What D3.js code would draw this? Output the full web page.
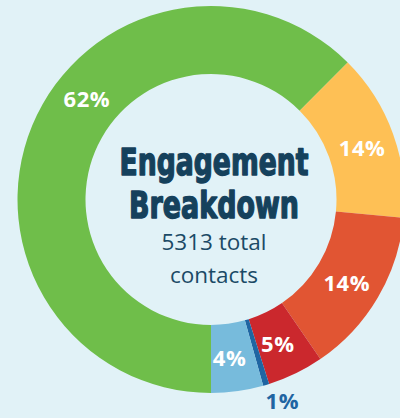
<!DOCTYPE html>
<html>
<head>
<meta charset="utf-8">
<script src="https://cdn.jsdelivr.net/npm/d3@7"></script>
<style>
  html, body { margin: 0; padding: 0; background: #e1f2f7; overflow: hidden; }
  svg { display: block; }
</style>
</head>
<body>
<svg id="chart" width="400" height="418"></svg>
<script>
// ---- data ----
const categories = ["Engaged", "Warm", "Interested", "Cold", "Bounced", "Unsubscribed"];
const counts = [3320, 745, 740, 250, 27, 231];
const colors = ["#6fbe4a", "#fec055", "#e15533", "#cb282d", "#1f65a2", "#77bbdc"];
const titleLines = ["Engagement", "Breakdown"];
const totalLabel = "total";
const subtitleLine2 = "contacts";

// ---- layout ----
const W = 400, H = 418;
const cx = 211, cy = 199.5;
const outerR = 193.5, innerR = 125.5;
const total = d3.sum(counts);

const svg = d3.select("#chart");
svg.append("rect").attr("width", W).attr("height", H).attr("fill", "#e1f2f7");

const g = svg.append("g").attr("transform", `translate(${cx},${cy})`);

const data = categories.map((c, i) => ({ category: c, value: counts[i], color: colors[i] }));

const pie = d3.pie()
  .sort(null)
  .value(d => d.value)
  .startAngle(Math.PI)
  .endAngle(3 * Math.PI);

const arcs = pie(data);
const arc = d3.arc().innerRadius(innerR).outerRadius(outerR);

g.selectAll("path.slice")
  .data(arcs)
  .join("path")
  .attr("class", "slice")
  .attr("d", arc)
  .attr("fill", d => d.data.color);

const pct = v => Math.round(v / total * 100) + "%";
const maxVal = d3.max(counts);
const midR = (innerR + outerR) / 2;

function labelPos(d) {
  const share = d.data.value / total;
  let a = (d.startAngle + d.endAngle) / 2;
  let r = midR;
  if (d.data.value === maxVal) a = d.startAngle + (d.endAngle - d.startAngle) * 0.573;
  else if (share < 0.02) { r = outerR + 21; a = a - 0.05; }
  else a = a + 0.02;
  return [Math.sin(a) * r, -Math.cos(a) * r];
}

g.selectAll("text.pct")
  .data(arcs)
  .join("text")
  .attr("class", "pct")
  .attr("x", d => labelPos(d)[0])
  .attr("y", d => labelPos(d)[1])
  .attr("dy", "0.35em")
  .attr("text-anchor", "middle")
  .attr("font-family", "'Open Sans', 'DejaVu Sans', sans-serif")
  .attr("font-weight", 700)
  .attr("font-size", 22)
  .attr("letter-spacing", 0.6)
  .attr("fill", d => (d.data.value / total < 0.02) ? d.data.color : "#ffffff")
  .text(d => pct(d.data.value));

// ---- center text ----
const tx = cx + 3;
const titleFont = "'Liberation Sans Narrow', 'DejaVu Sans Condensed', 'DejaVu Sans', sans-serif";
const titleWidths = [190, 171];
const titleBase = [175, 218];
titleLines.forEach((t, i) => {
  const holder = svg.append("g");
  const txt = holder.append("text")
    .attr("x", 0)
    .attr("y", 0)
    .attr("text-anchor", "middle")
    .attr("font-family", titleFont)
    .attr("font-stretch", "condensed")
    .attr("font-weight", 700)
    .attr("font-size", 38)
    .attr("fill", "#15415c")
    .attr("stroke", "#15415c")
    .attr("stroke-width", 1.4)
    .attr("stroke-linejoin", "round")
    .text(t);
  const natural = txt.node().getComputedTextLength() + 1.4;
  const sx = titleWidths[i] / natural;
  holder.attr("transform", `translate(${tx},${titleBase[i]}) scale(${sx},1)`);
});

svg.append("text")
  .attr("x", tx)
  .attr("y", 250)
  .attr("text-anchor", "middle")
  .attr("font-family", "'Open Sans', sans-serif")
  .attr("font-size", 22.5)
  .attr("fill", "#1b4a66")
  .text(`${total} ${totalLabel}`);

svg.append("text")
  .attr("x", tx)
  .attr("y", 283)
  .attr("text-anchor", "middle")
  .attr("font-family", "'Open Sans', sans-serif")
  .attr("font-size", 22.5)
  .attr("fill", "#1b4a66")
  .text(subtitleLine2);
</script>
</body>
</html>
